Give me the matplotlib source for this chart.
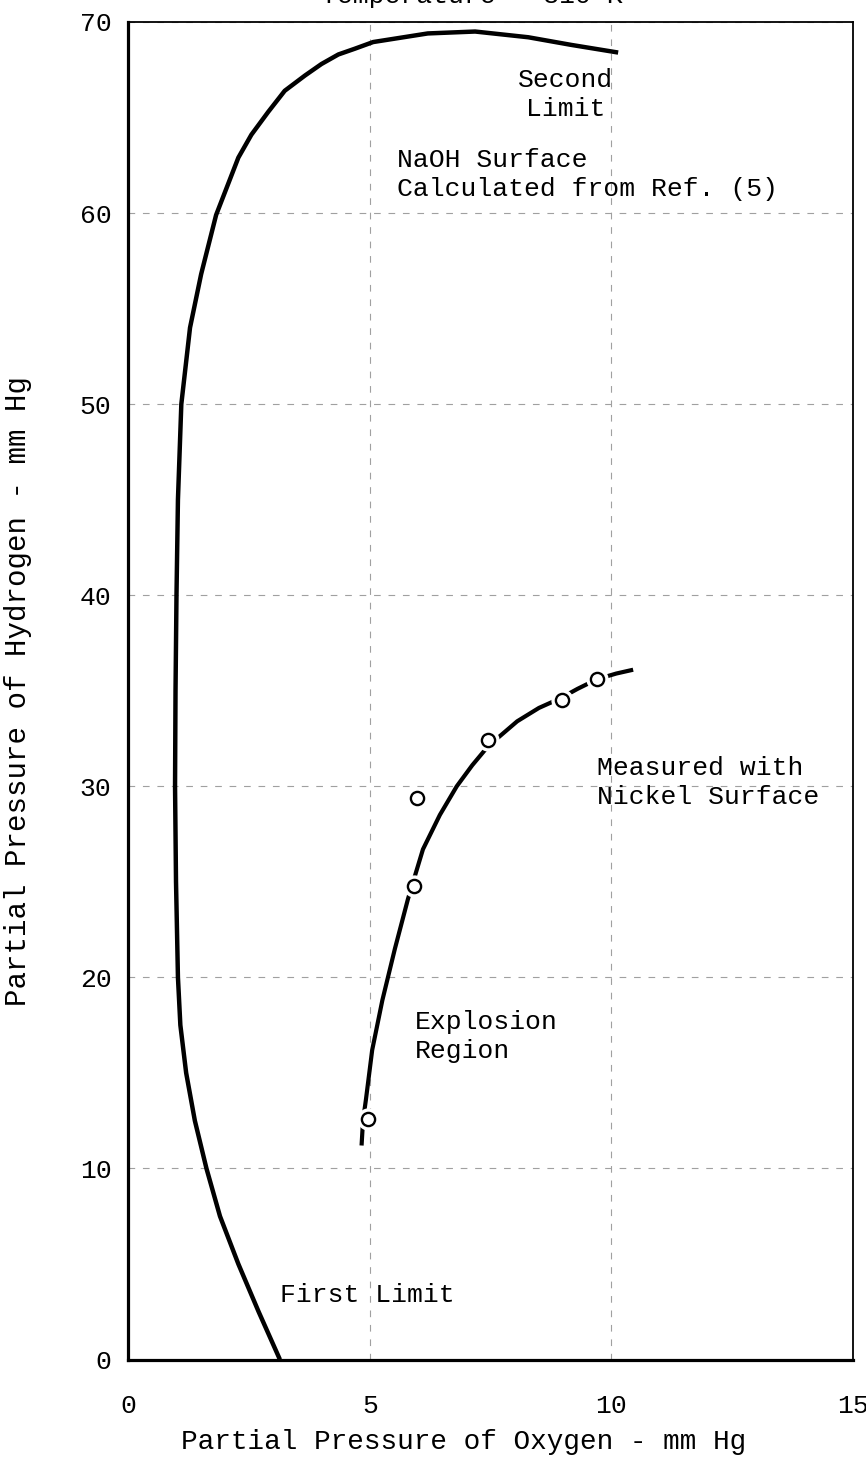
import matplotlib
matplotlib.use("Agg")
import matplotlib.pyplot as plt

# NaOH surface explosion limit (calculated from Ref. 5): first limit (bottom) to second limit (top)
naoh_x = [3.14, 2.7, 2.28, 1.9, 1.62, 1.38, 1.2, 1.08, 1.03, 0.99, 0.97, 0.98, 1.0,
          1.03, 1.1, 1.28, 1.51, 1.82, 2.28, 2.55, 2.9, 3.24, 3.66, 4.0, 4.35, 4.69,
          5.07, 6.2, 7.18, 8.28, 9.17, 10.14]
naoh_y = [0, 2.5, 5, 7.5, 10, 12.5, 15, 17.5, 20, 25, 30, 35, 40,
          45, 50, 54, 56.8, 59.9, 62.9, 64.1, 65.3, 66.4, 67.2, 67.8, 68.3, 68.6,
          68.95, 69.4, 69.5, 69.2, 68.8, 68.4]

# Nickel surface fitted curve
ni_curve_x = [4.83, 4.86, 4.92, 5.05, 5.26, 5.52, 5.79, 6.1, 6.45, 6.8, 7.12, 7.45,
              8.05, 8.5, 8.94, 9.3, 9.7, 10.1, 10.45]
ni_curve_y = [11.2, 12.5, 13.6, 16.2, 18.8, 21.5, 24.1, 26.7, 28.5, 30.0, 31.1, 32.1,
              33.4, 34.1, 34.6, 35.1, 35.6, 35.9, 36.1]

# Nickel surface measured points
ni_pts_x = [4.96, 5.98, 5.92, 7.45, 8.98, 9.7]
ni_pts_y = [12.6, 29.4, 24.8, 32.4, 34.5, 35.6]

x_ticks = [0, 5, 10, 15]
y_ticks = [0, 10, 20, 30, 40, 50, 60, 70]

FONT = "Liberation Mono"
FS = 19

fig = plt.figure(figsize=(8.66, 14.65), dpi=100)
ax = fig.add_axes([0.148, 0.072, 0.837, 0.913])

ax.plot(naoh_x, naoh_y, color="black", lw=3.2, solid_capstyle="butt",
        solid_joinstyle="round", zorder=3)
ax.plot(ni_curve_x, ni_curve_y, color="black", lw=3.0, solid_capstyle="butt",
        solid_joinstyle="round", zorder=3)
ax.plot(ni_pts_x, ni_pts_y, linestyle="none", marker="o", ms=15, mfc="white",
        mec="white", zorder=4)
ax.plot(ni_pts_x, ni_pts_y, linestyle="none", marker="o", ms=9.5, mfc="white",
        mec="black", mew=1.7, zorder=5)

ax.set_xlim(0, 15)
ax.set_ylim(0, 70)
ax.set_xticks(x_ticks)
ax.set_yticks(y_ticks)
ax.set_xticklabels([str(v) for v in x_ticks], fontfamily=FONT, fontsize=FS)
ax.set_yticklabels([str(v) for v in y_ticks], fontfamily=FONT, fontsize=FS)
ax.tick_params(axis="x", length=0, pad=25)
ax.tick_params(axis="y", length=0, pad=12)

ax.grid(True, color="#a0a0a0", linestyle=(0, (6, 7)), lw=0.8, zorder=0)
for side in ["left", "bottom"]:
    ax.spines[side].set_linewidth(2.3)
for side in ["top", "right"]:
    ax.spines[side].set_linewidth(1.3)

ax.set_xlabel("Partial Pressure of Oxygen - mm Hg", fontfamily=FONT, fontsize=20)
ax.set_ylabel("Partial Pressure of Hydrogen - mm Hg", fontfamily=FONT, fontsize=21)
ax.xaxis.set_label_coords(0.463, -0.052)
ax.xaxis.label.set_va("top")
ax.yaxis.set_label_coords(-0.132, 0.5)

kw = dict(fontfamily=FONT, fontsize=FS, linespacing=1.25)
ax.text(9.05, 66.2, "Second\nLimit", ha="center", va="center", **kw)
ax.text(5.56, 62.0, "NaOH Surface\nCalculated from Ref. (5)", ha="left", va="center", **kw)
ax.text(9.7, 30.2, "Measured with\nNickel Surface", ha="left", va="center", **kw)
ax.text(5.93, 16.9, "Explosion\nRegion", ha="left", va="center", **kw)
ax.text(3.14, 3.4, "First Limit", ha="left", va="center", **kw)

fig.text(0.545, 1.003, "Temperature = 810°K", ha="center", va="center",
         fontfamily=FONT, fontsize=FS)

fig.savefig("out.png", dpi=100)
